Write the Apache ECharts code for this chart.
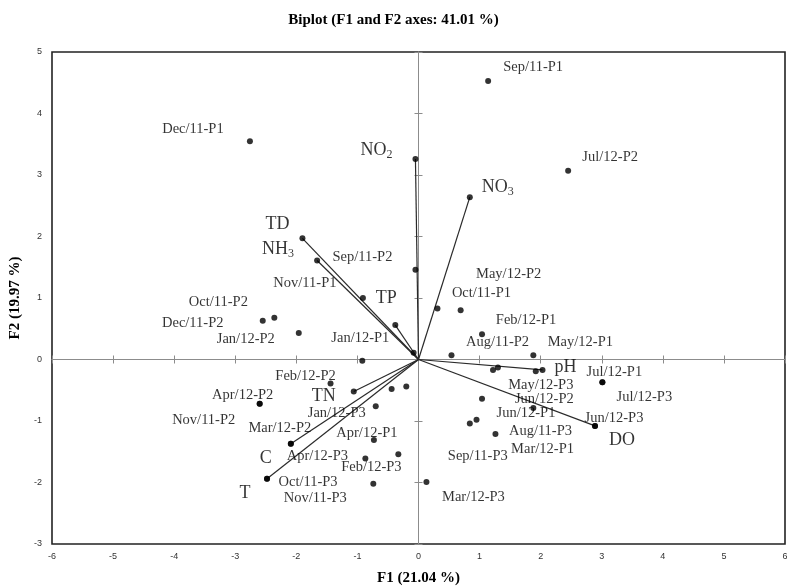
<!DOCTYPE html>
<html><head><meta charset="utf-8">
<script src="https://cdn.jsdelivr.net/npm/echarts@6/dist/echarts.min.js"></script>
<style>html,body{margin:0;padding:0;background:#fff}#c{width:787px;height:588px}</style>
</head><body><div id="c"></div>
<script>
// ---- data ----
const obsNames = ['Sep/11-P1','Jul/12-P2','Dec/11-P1','Sep/11-P2','Nov/11-P1','Oct/11-P2','Dec/11-P2','Jan/12-P2','Jan/12-P1','Feb/12-P2','Apr/12-P2','Nov/11-P2','Jan/12-P3','Mar/12-P2','Apr/12-P1','Apr/12-P3','Feb/12-P3','Oct/11-P3','Nov/11-P3','Oct/11-P1','May/12-P2','Feb/12-P1','Aug/11-P2','May/12-P1','Jul/12-P1','May/12-P3','Jun/12-P2','Jun/12-P1','Jul/12-P3','Jun/12-P3','Aug/11-P3','Mar/12-P1','Sep/11-P3','Mar/12-P3','','','','',''];
const obsX = [1.14, 2.45, -2.76, -0.05, -0.91, -2.36, -2.55, -1.96, -0.92, -1.44, -2.60, -2.60, -0.70, -2.09, -0.73, -0.87, -0.33, -2.48, -0.74, 0.31, 0.69, 1.04, 0.54, 1.88, 3.01, 1.92, 1.88, 1.04, 3.01, 2.89, 1.26, 0.95, 0.84, 0.13, -0.08, -0.44, -0.20, 1.22, 1.30];
const obsY = [4.53, 3.07, 3.55, 1.46, 1.00, 0.68, 0.63, 0.43, -0.02, -0.39, -0.72, -0.72, -0.76, -1.37, -1.31, -1.61, -1.54, -1.94, -2.02, 0.83, 0.80, 0.41, 0.07, 0.07, -0.37, -0.19, -0.79, -0.64, -0.37, -1.08, -1.21, -0.98, -1.04, -1.99, 0.11, -0.48, -0.44, -0.17, -0.13];

const varNames = ['NO2','NO3','TD','NH3','TP','pH','DO','TN','C','T'];
const varX = [-0.05, 0.84, -1.90, -1.66, -0.38, 2.03, 2.89, -1.06, -2.09, -2.48];
const varY = [3.26, 2.64, 1.97, 1.61, 0.56, -0.17, -1.08, -0.52, -1.37, -1.94];

const xTickMin = -6, xTickMax = 6, xTickStep = 1;
const yTickMin = -3, yTickMax = 5, yTickStep = 1;

const titleText = 'Biplot (F1 and F2 axes: 41.01 %)';
const xTitle = 'F1 (21.04 %)';
const yTitle = 'F2 (19.97 %)';

// ---- label placement (styling: pixel offsets of label centre from its dot) ----
const obsLabelOffset = [[45,-14],[42,-14],[-57,-12],[-53,-13],[-58,-15],[-56,-15],[-70,2],[-53,6],[-2,-23],[-25,-7],[-17,-9],[-56,16],[-39,7],[-11,-16],[-7,-7],[-48,-2],[-27,13],[41,3],[-58,14],[44,-15],[48,-36],[44,-14],[46,-13],[47,-13],[12,-10],[5,14],[11,-9],[44,14],[42,15],[19,-8],[45,-3],[66,29],[8,33],[47,15],[0,0],[0,0],[0,0],[0,0],[0,0]];
const varLabelOffset = [[-39,-9],[28,-10],[-25,-14],[-39,-11],[-9,-27],[23,-3],[27,14],[-30,5],[-25,15],[-22,14]];

const serif = "'Liberation Serif','Times New Roman',serif";
const sans = "'Liberation Sans',Arial,sans-serif";

function subLabel(name){
  const m = name.match(/^([A-Za-z]+)(\d)$/);
  return m ? '{a|' + m[1] + '}{s|' + m[2] + '}' : '{a|' + name + '}';
}

const chart = echarts.init(document.getElementById('c'), null, {renderer:'canvas'});

const baseX = {type:'value', min:xTickMin, max:xTickMax, interval:xTickStep, splitLine:{show:false}};
const baseY = {type:'value', min:yTickMin, max:yTickMax, interval:yTickStep, splitLine:{show:false}};
const zeroLine = {show:true, lineStyle:{color:'#8c8c8c', width:1}};
const tickStyle = {color:'#8c8c8c', width:1};

const option = {
  animation:false,
  backgroundColor:'#fff',
  title:{text:titleText, left:'center', top:8,
    textStyle:{fontFamily:serif, fontWeight:'bold', fontSize:15, color:'#000'}},
  grid:{left:52, top:52, right:2, bottom:44, containLabel:false, outerBoundsMode:'none',
    show:true, borderColor:'#222', borderWidth:1.6, backgroundColor:'transparent'},
  xAxis:[
    Object.assign({}, baseX, {position:'bottom',
      axisLine:{show:false, onZero:false}, axisTick:{show:false},
      axisLabel:{fontFamily:sans, fontSize:9, color:'#333', margin:8},
      name:xTitle, nameLocation:'middle', nameGap:27,
      nameTextStyle:{fontFamily:serif, fontWeight:'bold', fontSize:15, color:'#000'}}),
    Object.assign({}, baseX, {position:'bottom',
      axisLine:Object.assign({onZero:true, onZeroAxisIndex:0}, zeroLine),
      axisTick:{show:true, inside:true, length:4, lineStyle:tickStyle}, axisLabel:{show:false}}),
    Object.assign({}, baseX, {position:'bottom',
      axisLine:Object.assign({onZero:true, onZeroAxisIndex:0}, zeroLine),
      axisTick:{show:true, inside:false, length:4, lineStyle:tickStyle}, axisLabel:{show:false}})
  ],
  yAxis:[
    Object.assign({}, baseY, {position:'left',
      axisLine:{show:false, onZero:false}, axisTick:{show:false},
      axisLabel:{fontFamily:sans, fontSize:9, color:'#333', margin:10},
      name:yTitle, nameLocation:'middle', nameGap:24, nameRotate:90,
      nameTextStyle:{fontFamily:serif, fontWeight:'bold', fontSize:15, color:'#000'}}),
    Object.assign({}, baseY, {position:'left',
      axisLine:Object.assign({onZero:true, onZeroAxisIndex:0}, zeroLine),
      axisTick:{show:true, inside:true, length:4, lineStyle:tickStyle}, axisLabel:{show:false}}),
    Object.assign({}, baseY, {position:'left',
      axisLine:Object.assign({onZero:true, onZeroAxisIndex:0}, zeroLine),
      axisTick:{show:true, inside:false, length:4, lineStyle:tickStyle}, axisLabel:{show:false}})
  ],
  series:[
    {type:'lines', coordinateSystem:'cartesian2d', xAxisIndex:0, yAxisIndex:0, z:3, silent:true,
      lineStyle:{color:'#2a2a2a', width:1.2, opacity:1},
      data:varNames.map((n,i)=>({coords:[[0,0],[varX[i],varY[i]]]}))},
    {type:'scatter', xAxisIndex:0, yAxisIndex:0, z:4, symbol:'circle', symbolSize:6,
      itemStyle:{color:'#000'},
      data:varNames.map((n,i)=>({value:[varX[i],varY[i]], name:n,
        label:{show:true, position:'inside', offset:varLabelOffset[i], formatter:subLabel(n),
          textBorderWidth:0, color:'#000',
          rich:{a:{fontFamily:serif, fontSize:18, color:'#000', textBorderWidth:0},
                s:{fontFamily:serif, fontSize:12, color:'#000', textBorderWidth:0, padding:[9,0,0,0]}}}}))},
    {type:'scatter', xAxisIndex:0, yAxisIndex:0, z:5, symbol:'circle', symbolSize:6,
      itemStyle:{color:'#000'},
      data:obsNames.map((n,i)=>({value:[obsX[i],obsY[i]], name:n,
        label:{show:n!=='', position:'inside', offset:obsLabelOffset[i], formatter:n,
          fontFamily:serif, fontSize:14.5, color:'#000', textBorderWidth:0}}))}
  ]
};
chart.setOption(option);
</script></body></html>
